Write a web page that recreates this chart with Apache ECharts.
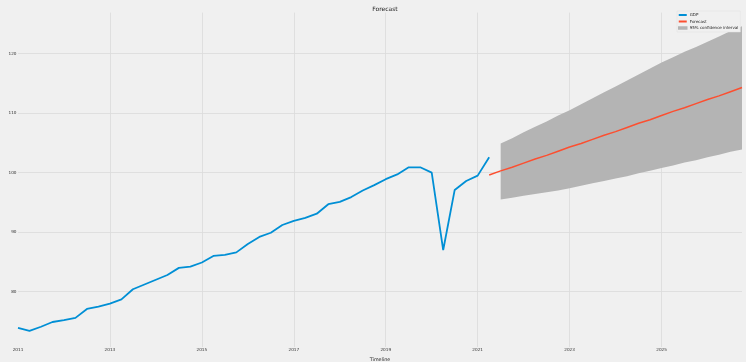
<!DOCTYPE html>
<html>
<head>
<meta charset="utf-8">
<title>Forecast</title>
<script src="https://cdn.jsdelivr.net/npm/echarts@6/dist/echarts.min.js"></script>
<style>
  html, body { margin: 0; padding: 0; background: #f0f0f0; }
  #chart { width: 746px; height: 362px; }
</style>
</head>
<body>
<div id="chart"></div>
<script>
    // years on the time axis (quarterly, 2011 Q1 .. 2026 Q4)
    var years = [2011, 2012, 2013, 2014, 2015, 2016, 2017, 2018, 2019, 2020, 2021, 2022, 2023, 2024, 2025, 2026];
    var quarterNames = ['Q1', 'Q2', 'Q3', 'Q4'];

    // observed GDP, 2011 Q1 .. 2021 Q2
    var gdp = [
        73.9, 73.4, 74.1, 74.9, 75.2, 75.6, 77.1, 77.5,
        78.0, 78.7, 80.4, 81.2, 82.0, 82.8, 84.0, 84.2,
        84.9, 86.0, 86.2, 86.6, 88.0, 89.2, 89.9, 91.2,
        91.9, 92.4, 93.1, 94.7, 95.1, 95.9, 97.0, 97.9,
        98.9, 99.7, 100.9, 100.9, 100.0, 87.0, 97.1, 98.6,
        99.5, 102.6
    ];

    // forecast, 2021 Q2 .. 2026 Q4
    var forecast = [
        99.6, 100.3, 100.9, 101.6, 102.3, 102.9, 103.6, 104.3,
        104.9, 105.6, 106.3, 106.9, 107.6, 108.3, 108.9, 109.6,
        110.3, 110.9, 111.6, 112.3, 112.9, 113.6, 114.3
    ];

    // 95% confidence interval, 2021 Q3 .. 2026 Q4
    var ciUpper = [
        104.9, 105.8, 106.8, 107.7, 108.6, 109.6, 110.5, 111.5,
        112.5, 113.5, 114.5, 115.5, 116.5, 117.5, 118.5, 119.4,
        120.3, 121.1, 122.0, 122.9, 123.8, 124.6
    ];
    var ciLower = [
        95.5, 95.8, 96.1, 96.4, 96.7, 97.0, 97.4, 97.8,
        98.2, 98.6, 99.0, 99.4, 99.9, 100.3, 100.8, 101.2,
        101.7, 102.1, 102.6, 103.0, 103.5, 103.9
    ];

    var gdpStart = 0, forecastStart = 41, ciStart = 42;

    var categories = [];
    years.forEach(function (y) {
        quarterNames.forEach(function (q) { categories.push(y + ' ' + q); });
    });

    // put a series at its place on the quarter axis
    function place(values, start) {
        var out = [];
        for (var i = 0; i < categories.length; i++) {
            var k = i - start;
            out.push(k >= 0 && k < values.length ? values[k] : '-');
        }
        return out;
    }

    var ciWidth = ciUpper.map(function (v, i) { return +(v - ciLower[i]).toFixed(2); });

    var everyOtherYear = function (index) { return index % 8 === 0; };
    var font = 'DejaVu Sans';

    var myChart = echarts.init(document.getElementById('chart'), null, { renderer: 'canvas' });
    var option = {
        backgroundColor: '#f0f0f0',
        animation: false,
        textStyle: { fontFamily: font },
        title: {
            text: 'Forecast',
            left: 380,
            textAlign: 'center',
            top: 1,
            textStyle: { fontFamily: font, fontSize: 6, fontWeight: 'normal', color: '#222' }
        },
        legend: {
            orient: 'vertical',
            left: 677,
            top: 11,
            padding: [2, 2, 2, 1],
            itemWidth: 8,
            itemHeight: 2,
            itemGap: 2.5,
            backgroundColor: '#f0f0f0',
            borderColor: '#e2e2e2',
            borderWidth: 0.5,
            textStyle: { fontFamily: font, fontSize: 4, color: '#222', padding: [0, 0, 0, -2] },
            data: [
                { name: 'GDP', icon: 'rect', itemStyle: { color: '#008fd5' } },
                { name: 'Forecast', icon: 'rect', itemStyle: { color: '#fc4f30' } },
                { name: '95% confidence interval', icon: 'rect',
                  itemStyle: { color: '#b4b4b4', borderColor: '#b4b4b4', borderWidth: 1.5 } }
            ]
        },
        grid: {
            left: 18,
            right: 4,
            top: 12.6,
            bottom: 15,
            containLabel: false,
            outerBoundsMode: 'none'
        },
        xAxis: {
            type: 'category',
            boundaryGap: false,
            data: categories,
            name: 'Timeline',
            nameLocation: 'middle',
            nameGap: -1,
            nameTextStyle: { fontFamily: font, fontSize: 4.8, color: '#222' },
            axisLine: { show: false },
            axisTick: { show: false },
            axisLabel: {
                interval: everyOtherYear,
                margin: 1,
                fontSize: 4.2,
                color: '#333',
                formatter: function (v) { return v.slice(0, 4); }
            },
            splitLine: {
                show: true,
                interval: everyOtherYear,
                showMinLine: false,
                lineStyle: { color: '#dadada', width: 0.8 }
            }
        },
        yAxis: {
            type: 'value',
            min: 70.7,
            max: 126.9,
            minInterval: 10,
            maxInterval: 10,
            name: 'GDP (%)',
            nameLocation: 'middle',
            nameRotate: 90,
            nameGap: 11,
            nameTextStyle: { fontFamily: font, fontSize: 4.6, color: '#222' },
            axisLine: { show: false },
            axisTick: { show: false },
            axisLabel: {
                margin: 1.5,
                fontSize: 4.2,
                color: '#333',
                showMinLabel: false,
                showMaxLabel: false
            },
            splitLine: {
                show: true,
                showMinLine: false,
                showMaxLine: false,
                lineStyle: { color: '#dadada', width: 0.8 }
            }
        },
        series: [
            {
                name: 'ci-lower',
                type: 'line',
                stack: 'ci',
                data: place(ciLower, ciStart),
                showSymbol: false,
                symbol: 'none',
                lineStyle: { opacity: 0 },
                silent: true
            },
            {
                name: '95% confidence interval',
                type: 'line',
                stack: 'ci',
                data: place(ciWidth, ciStart),
                showSymbol: false,
                symbol: 'none',
                lineStyle: { opacity: 0 },
                itemStyle: { color: '#b4b4b4' },
                areaStyle: { color: '#b4b4b4', opacity: 1 },
                silent: true
            },
            {
                name: 'GDP',
                type: 'line',
                data: place(gdp, gdpStart),
                showSymbol: false,
                symbol: 'none',
                itemStyle: { color: '#008fd5' },
                lineStyle: { color: '#008fd5', width: 1.8 }
            },
            {
                name: 'Forecast',
                type: 'line',
                data: place(forecast, forecastStart),
                showSymbol: false,
                symbol: 'none',
                itemStyle: { color: '#fc4f30' },
                lineStyle: { color: '#fc4f30', width: 1.5 }
            }
        ]
    };
    myChart.setOption(option);
</script>
</body>
</html>
